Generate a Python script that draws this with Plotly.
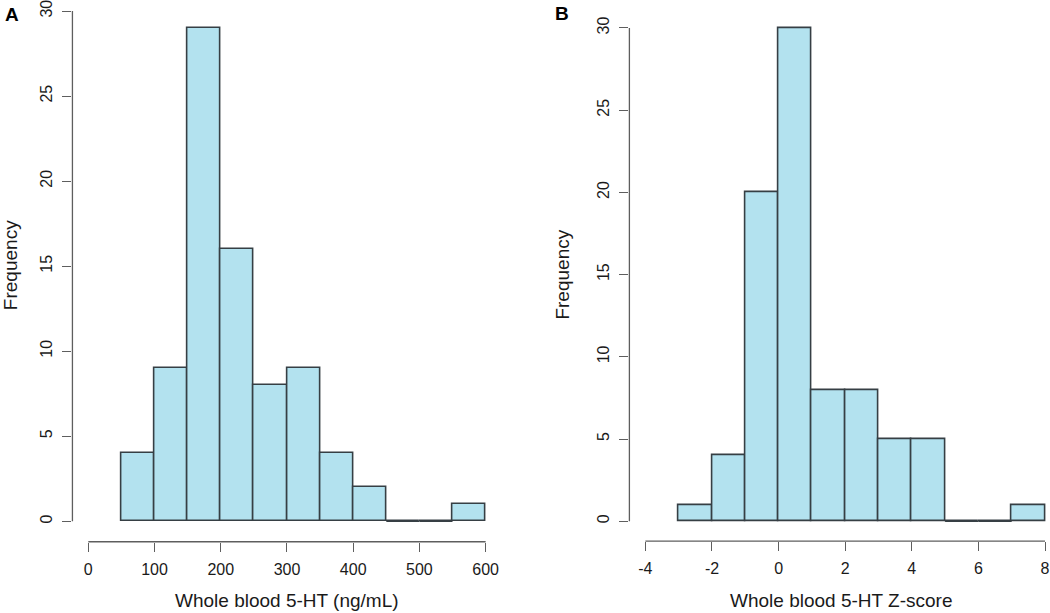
import plotly.graph_objects as go

# Panel A: whole blood 5-HT (ng/mL), bins of 50
a_edges = [50, 100, 150, 200, 250, 300, 350, 400, 450, 500, 550, 600]
a_counts = [4, 9, 29, 16, 8, 9, 4, 2, 0, 0, 1]
a_xticks = [0, 100, 200, 300, 400, 500, 600]
a_xlabels = ["0", "100", "200", "300", "400", "500", "600"]
a_yticks = [0, 5, 10, 15, 20, 25, 30]

# Panel B: whole blood 5-HT Z-score, bins of 1
b_edges = [-3, -2, -1, 0, 1, 2, 3, 4, 5, 6, 7, 8]
b_counts = [1, 4, 20, 30, 8, 8, 5, 5, 0, 0, 1]
b_xticks = [-4, -2, 0, 2, 4, 6, 8]
b_xlabels = ["-4", "-2", "0", "2", "4", "6", "8"]
b_yticks = [0, 5, 10, 15, 20, 25, 30]

FILL = "#B3E2EF"
EDGE = "#363F44"
AXC = "#5E5E5E"
FONT = "Liberation Sans, Arial, sans-serif"

W, H = 1050, 613

fig = go.Figure()


def add_hist(edges, counts, xa, ya):
    centers = [(edges[i] + edges[i + 1]) / 2 for i in range(len(counts))]
    widths = [edges[i + 1] - edges[i] for i in range(len(counts))]
    fig.add_trace(go.Bar(
        x=centers, y=counts, width=widths,
        marker=dict(color=FILL, line=dict(color=EDGE, width=1.6)),
        xaxis=xa, yaxis=ya, showlegend=False, hoverinfo="x+y",
    ))
    # zero-height bins still show their baseline edge
    for i, c in enumerate(counts):
        if c == 0:
            fig.add_trace(go.Scatter(
                x=[edges[i], edges[i + 1]], y=[0, 0], mode="lines",
                line=dict(color=EDGE, width=1.6),
                xaxis=xa, yaxis=ya, showlegend=False, hoverinfo="skip",
            ))


add_hist(a_edges, a_counts, "x", "y")
add_hist(b_edges, b_counts, "x2", "y2")

axis_common = dict(
    showgrid=False, zeroline=False, showline=False,
    ticks="outside", ticklen=9, tickwidth=1.3, tickcolor=AXC,
    tickfont=dict(family=FONT, size=16, color="#1a1a1a"),
    fixedrange=True, ticklabelstandoff=4, ticklabeloverflow="allow",
)

fig.update_layout(
    width=W, height=H,
    margin=dict(l=0, r=0, t=0, b=0),
    paper_bgcolor="white", plot_bgcolor="white",
    bargap=0,
    font=dict(family=FONT, size=16, color="#1a1a1a"),
    xaxis=dict(domain=[72.5 / W, 502 / W], range=[-24, 624],
               tickvals=a_xticks, ticktext=a_xlabels, anchor="y", **axis_common),
    yaxis=dict(domain=[(H - 541.5) / H, 1.0], range=[-1.2, 30.53],
               tickvals=a_yticks, tickangle=-90, anchor="x", **axis_common),
    xaxis2=dict(domain=[630 / W, 1.0], range=[-4.48, 8.12],
                tickvals=b_xticks, ticktext=b_xlabels, anchor="y2", **axis_common),
    yaxis2=dict(domain=[(H - 540.8) / H, (H - 6.2) / H], range=[-1.2, 31.2],
                tickvals=b_yticks, tickangle=-90, anchor="x2", **axis_common),
)

# R-style axis lines spanning only the tick range
for xa, ya, xt, yt in [("x", "y", a_xticks, a_yticks), ("x2", "y2", b_xticks, b_yticks)]:
    fig.add_shape(type="line", xref=xa, yref=ya + " domain",
                  x0=min(xt), x1=max(xt), y0=0, y1=0,
                  line=dict(color=AXC, width=1.3))
    fig.add_shape(type="line", xref=xa + " domain", yref=ya,
                  x0=0, x1=0, y0=min(yt), y1=max(yt),
                  line=dict(color=AXC, width=1.3))

TF = dict(family=FONT, size=19, color="#1a1a1a")
ann = [
    dict(text="Whole blood 5-HT (ng/mL)", x=287 / W, y=1 - 600 / H, font=TF),
    dict(text="Whole blood 5-HT Z-score", x=842 / W, y=1 - 600 / H, font=TF),
    dict(text="Frequency", x=10 / W, y=1 - 264 / H, textangle=-90, font=TF),
    dict(text="Frequency", x=563 / W, y=1 - 273 / H, textangle=-90, font=TF),
    dict(text="<b>A</b>", x=12.5 / W, y=1 - 13 / H, font=dict(family=FONT, size=19, color="#000")),
    dict(text="<b>B</b>", x=563 / W, y=1 - 12 / H, font=dict(family=FONT, size=19, color="#000")),
]
for a in ann:
    fig.add_annotation(xref="paper", yref="paper", showarrow=False,
                       xanchor="center", yanchor="middle", **a)

fig.write_html("out.html", config={"displayModeBar": False},
               post_script="document.body.style.margin='0';document.body.style.overflow='hidden';")
